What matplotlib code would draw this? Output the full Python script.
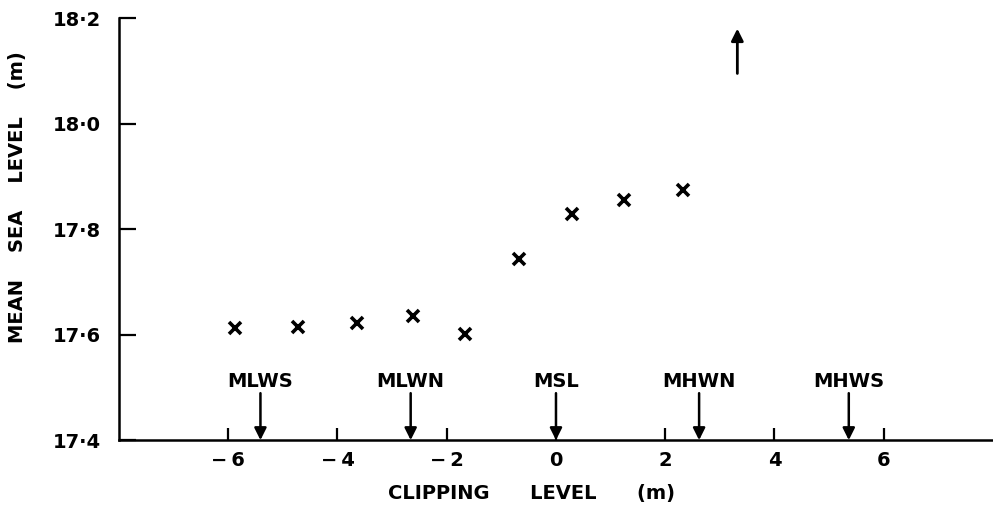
"""
Mean sea level against clipping level, with tidal datum markers
"""
import matplotlib.pyplot as plt
from matplotlib.ticker import FuncFormatter

plt.rcParams['font.family'] = ['DejaVu Sans']
plt.rcParams['font.weight'] = 'bold'
plt.rcParams['axes.labelweight'] = 'bold'

# clipping level (m) and resulting mean sea level (m)
clip_level = [-5.87, -4.72, -3.64, -2.62, -1.67, -0.68, 0.29, 1.25, 2.32]
mean_sea_level = [17.613, 17.615, 17.622, 17.635, 17.602, 17.744, 17.828, 17.855, 17.875]

# next point lies off the top of the scale
offscale_x = 3.32

# tidal datums marked along the clipping axis
datum_names = ['MLWS', 'MLWN', 'MSL', 'MHWN', 'MHWS']
datum_levels = [-5.41, -2.66, 0.0, 2.62, 5.36]

x_ticks = [-6, -4, -2, 0, 2, 4, 6]
y_ticks = [17.4, 17.6, 17.8, 18.0, 18.2]


def x_fmt(v, pos):
    s = f'{v:g}'
    return s.replace('-', '\u2212\u2009')


def y_fmt(v, pos):
    return f'{v:.1f}'.replace('.', '·')


fig = plt.figure(figsize=(9.93, 5.16), dpi=100)
ax = fig.add_axes([0.1198, 0.147, 0.8802, 0.818])

ax.plot(clip_level, mean_sea_level, linestyle='none', marker='x',
        markersize=8, markeredgewidth=2.6, color='black')

# arrow pointing to the off-scale value
ax.annotate('', xy=(offscale_x, 18.18), xytext=(offscale_x, 18.095),
            arrowprops=dict(arrowstyle='-|>', color='black', lw=2,
                            mutation_scale=18, shrinkA=0, shrinkB=0))

for name, lvl in zip(datum_names, datum_levels):
    ax.annotate('', xy=(lvl, 17.4), xytext=(lvl, 17.489),
                arrowprops=dict(arrowstyle='-|>', color='black', lw=1.8,
                                mutation_scale=18, shrinkA=0, shrinkB=0))
    ax.text(lvl, 17.512, name, ha='center', va='center', fontsize=14)

ax.set_xlim(-8, 8)
ax.set_ylim(17.4, 18.2)
ax.set_xticks(x_ticks)
ax.set_yticks(y_ticks)
ax.yaxis.set_major_formatter(FuncFormatter(y_fmt))
ax.xaxis.set_major_formatter(FuncFormatter(x_fmt))

for side in ['top', 'right']:
    ax.spines[side].set_visible(False)
for side in ['left', 'bottom']:
    ax.spines[side].set_linewidth(1.8)

ax.tick_params(axis='y', direction='in', length=12, width=1.6, pad=13, labelsize=14)
ax.tick_params(axis='x', direction='in', length=9, width=1.6, pad=8, labelsize=14)

ax.set_xlabel('CLIPPING      LEVEL      (m)', fontsize=14)
ax.xaxis.set_label_coords(0.472, -0.105)
ax.set_ylabel('MEAN    SEA    LEVEL    (m)', fontsize=14)
ax.yaxis.set_label_coords(-0.105, 0.575)

plt.savefig('out.png', dpi=100)
plt.close()
